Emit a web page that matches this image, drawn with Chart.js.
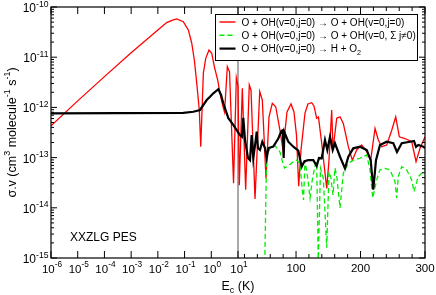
<!DOCTYPE html>
<html>
<head>
<meta charset="utf-8">
<script src="https://cdn.jsdelivr.net/npm/chart.js@4.4.1/dist/chart.umd.min.js"></script>
<style>
    html, body { margin: 0; padding: 0; background: #fff; }
</style>
</head>
<body>
<canvas id="grafico-tasas" width="436" height="295"></canvas>
<script>
// ==========================================
// 1. DATOS (Ec en K, sigma.v en cm3 molecule-1 s-1)
// ==========================================

// O + OH(v=0,j=0) -> O + OH(v=0,j=0)
const ecRojo = [1e-6, 1e-5, 1e-4, 1e-3, 1e-2, 0.0158, 0.0215, 0.0355, 0.0508, 0.0897, 0.138, 0.185, 0.232,
    0.285, 0.356, 0.403, 0.504, 0.619, 0.822, 1.04, 1.30, 1.74, 2.12, 2.75, 3.14, 3.99, 4.82, 6.81,
    8.67, 10, 12.0, 16.7, 21.9, 27.5, 30.2, 36.4, 43.7, 47.7, 53.4, 58.1, 63.2, 68.5, 75.1, 79.8,
    86, 92.2, 96.8, 100.7, 104.1, 107.7, 113.9, 118.4, 124.3, 127.8, 132, 134.8, 139.8, 147.6,
    151.1, 155.3, 157.3, 163.1, 168.2, 173.3, 181.1, 187.3, 194.1, 201.8, 209.6, 215.8, 222.5,
    227.6, 232.9, 240.6, 248.4, 254.6, 260.2, 269, 279.4, 286.1, 292.3, 300];
const sigmaRojo = [4.3e-13, 1.35e-12, 4.1e-12, 1.23e-11, 3.5e-11, 4.3e-11, 4.9e-11, 5.5e-11, 5.8e-11, 5.1e-11,
    3.5e-11, 1.92e-11, 8.8e-12, 3.06e-12, 8.9e-13, 1.65e-13, 4.8e-12, 9.5e-12, 1.39e-11, 1.2e-11,
    6.5e-12, 3.5e-12, 1.91e-12, 1.03e-12, 8.1e-13, 6.5e-12, 5.1e-12, 3.1e-14, 3.9e-12, 2.67e-12,
    2.8e-14, 2.4e-12, 2.3e-14, 2.8e-12, 2.2e-12, 1.5e-14, 2.06e-12, 1.4e-12, 3.9e-14, 6.5e-13,
    1.21e-12, 1.03e-12, 3.5e-13, 1.42e-13, 8.1e-13, 1.17e-12, 8.1e-13, 2.8e-13, 2.7e-14, 1.42e-13,
    7.7e-13, 1.17e-12, 1.24e-12, 1.07e-12, 6.1e-13, 6.4e-13, 1.93e-13, 2.44e-14, 8.9e-14, 8.9e-13,
    1.42e-13, 6.1e-13, 6.5e-13, 4.8e-13, 1.65e-13, 8.9e-14, 1.42e-13, 1.78e-13, 1.31e-13, 8.9e-14,
    3.8e-13, 2.24e-13, 1.65e-13, 1.78e-13, 3.5e-13, 6.5e-13, 2.6e-13, 2.4e-13, 2.07e-13, 8.3e-14,
    1.53e-13, 2.6e-13];

// O + OH(v=0,j=0) -> O + OH(v=0, Σ j≠0)
const ecVerde = [51.5, 54.3, 59.6, 66.3, 70.5, 75.1, 79, 82.1, 88, 95.8, 101, 106.2, 109.3, 111.6,
    113.9, 118.1, 121.7, 125.2, 129.4, 132, 134.5, 137.9, 142.3, 147.6, 151.1, 154.2, 157.3, 160.4,
    163.5, 168.2, 173.3, 175.9, 181.1, 188.8, 199.2, 209.6, 214.7, 218.9, 225.1, 230.2, 238, 245.7,
    253.5, 256.1, 258.6, 263.9, 271.6, 279.4, 282.9, 289.6, 297.4, 300];
const sigmaVerde = [8e-16, 1.03e-13, 1.53e-13, 1.78e-13, 1.55e-13, 1.29e-13, 8.2e-14, 6.2e-14, 6.8e-14,
    8.3e-14, 8.9e-14, 7.7e-14, 2.5e-14, 1.43e-14, 8.9e-14, 3.9e-14, 1.57e-14, 3.6e-14, 6.8e-14,
    8.2e-14, 8e-16, 6.2e-14, 3.9e-14, 1.6e-15, 5.2e-14, 3.9e-14, 1.8e-14, 6.2e-14, 3.9e-14, 9.9e-15,
    4.9e-14, 5.7e-14, 7.7e-14, 8.9e-14, 9.7e-14, 1.13e-13, 5.7e-14, 1.57e-14, 3.6e-14, 5.7e-14,
    6.1e-14, 5.7e-14, 3.3e-14, 1.57e-14, 4.2e-14, 6.6e-14, 5.7e-14, 3.6e-14, 2.1e-14, 4.2e-14,
    5.2e-14, 5.7e-14];

// O + OH(v=0,j=0) -> H + O2
const ecNegro = [1e-6, 0.0897, 0.213, 0.378, 0.674, 0.897, 1.19, 1.84, 2.32, 2.82, 4.35, 6.68, 8.43,
    10, 13.1, 16.2, 18.2, 20.9, 25.5, 28.6, 31.2, 33.7, 37.5, 39, 41, 44.1, 47.7, 51.9, 54.5, 57.3,
    64.7, 72.5, 77.5, 79.5, 80.8, 82, 88, 95.8, 103.5, 108.8, 113.1, 119, 126.8, 132, 135.6, 139.8,
    144.9, 148.5, 152.7, 156.9, 160.4, 168.2, 175.9, 181.1, 188.8, 199.2, 209.6, 215.8, 219.8, 224,
    230.2, 240.6, 250.8, 256.6, 263.9, 276.7, 282.9, 286.1, 289.6, 297.4, 300];
const sigmaNegro = [7.6e-13, 7.8e-13, 8.2e-13, 8.9e-13, 1.4e-12, 1.63e-12, 1.91e-12, 2.3e-12, 1.77e-12,
    1.21e-12, 6.1e-13, 4.5e-13, 3.7e-13, 3.2e-13, 2.8e-13, 2.6e-13, 6.2e-13, 2.24e-13, 9.8e-14,
    8.9e-14, 2.8e-13, 9.8e-14, 2.24e-13, 3.3e-13, 1.55e-13, 1.42e-13, 2.07e-13, 1.55e-13, 9.7e-14,
    1.55e-13, 1.65e-13, 2.4e-13, 3.4e-13, 3.5e-13, 9.8e-14, 3.2e-13, 2.07e-13, 1.65e-13, 1.38e-13,
    6.6e-14, 8.5e-14, 8.9e-14, 8.9e-14, 6.8e-14, 9.8e-14, 9.7e-14, 2.24e-13, 1.42e-13, 2.6e-13,
    1.42e-13, 1.93e-13, 1.04e-13, 6.1e-14, 1.04e-13, 1.53e-13, 1.65e-13, 1.42e-13, 8.9e-14, 2.3e-14,
    8.9e-14, 1.78e-13, 2.07e-13, 1.93e-13, 1.29e-13, 1.93e-13, 2.07e-13, 2.14e-13, 1.63e-13,
    1.78e-13, 1.65e-13, 1.55e-13];

// Ejes: parte logarítmica hasta 10 K, parte lineal de 10 a 300 K
const corteLog = 10;
const ecMax = 300;
const exponentesX = [-6, -5, -4, -3, -2, -1, 0, 1];
const ticksLinealX = [100, 200, 300];
const ticksMenoresX = [20, 40, 60, 80, 120, 140, 160, 180, 220, 240, 260, 280];
const exponentesY = [-15, -14, -13, -12, -11, -10];

const leyenda = [
    { color: '#ff0000', dash: [], ancho: 1.4, texto: [['O + OH(v=0,j=0) \u2192 O + OH(v=0,j=0)', 'n']] },
    { color: '#00ee00', dash: [5, 3], ancho: 1.4, texto: [['O + OH(v=0,j=0) \u2192 O + OH(v=0, \u03a3 j\u22600)', 'n']] },
    { color: '#000000', dash: [], ancho: 2.2, texto: [['O + OH(v=0,j=0) \u2192 H + O', 'n'], ['2', 'sub']] }
];

// ==========================================
// 2. UTILIDADES
// ==========================================

// Posición en el eje compuesto: 0..7 log(Ec), 7..14 lineal
function posicionX(ec) {
    if (ec <= corteLog) return Math.log10(ec) + 6;
    return 7 + (ec - corteLog) * 7 / (ecMax - corteLog);
}

function puntos(ecs, sigmas) {
    return ecs.map((e, i) => ({ x: posicionX(e), y: sigmas[i] }));
}

const FUENTE = '"Liberation Sans", Arial, Helvetica, sans-serif';

// Dibuja texto con partes normales, superíndices y subíndices
function textoCompuesto(ctx, partes, x, y, tam, alinear) {
    const medidas = partes.map(([t, tipo]) => {
        const s = tipo === 'n' ? tam : tam * 0.72;
        ctx.font = s + 'px ' + FUENTE;
        return { t, tipo, s, w: ctx.measureText(t).width };
    });
    const total = medidas.reduce((acc, m) => acc + m.w, 0);
    let cx = x;
    if (alinear === 'center') cx = x - total / 2;
    if (alinear === 'right') cx = x - total;
    ctx.textAlign = 'left';
    ctx.textBaseline = 'alphabetic';
    medidas.forEach(m => {
        ctx.font = m.s + 'px ' + FUENTE;
        let dy = 0;
        if (m.tipo === 'sup') dy = -tam * 0.45;
        if (m.tipo === 'sub') dy = tam * 0.25;
        ctx.fillText(m.t, cx, y + dy);
        cx += m.w;
    });
    return total;
}

// ==========================================
// 3. PLUGIN DE EJES, LEYENDA Y TEXTOS
// ==========================================

const marcoEjes = {
    id: 'marcoEjes',
    beforeDatasetsDraw(chart) {
        const { ctx, chartArea: a, scales: { x } } = chart;
        const xp = x.getPixelForValue(posicionX(corteLog));
        ctx.save();
        ctx.strokeStyle = '#8c8c8c';
        ctx.lineWidth = 1.5;
        ctx.beginPath();
        ctx.moveTo(xp, a.top);
        ctx.lineTo(xp, a.bottom);
        ctx.stroke();
        ctx.restore();
    },
    afterDatasetsDraw(chart) {
        const { ctx, chartArea: a, scales: { x, y } } = chart;
        ctx.save();
        ctx.fillStyle = '#000';
        ctx.strokeStyle = '#000';

        // marco
        ctx.lineWidth = 1.2;
        ctx.strokeRect(a.left, a.top, a.right - a.left, a.bottom - a.top);

        // ticks eje x
        ctx.lineWidth = 1;
        const tickX = (px, largo) => {
            ctx.beginPath();
            ctx.moveTo(px, a.bottom); ctx.lineTo(px, a.bottom - largo);
            ctx.moveTo(px, a.top); ctx.lineTo(px, a.top + largo);
            ctx.stroke();
        };
        exponentesX.forEach(n => tickX(x.getPixelForValue(posicionX(Math.pow(10, n))), 7));
        ticksLinealX.forEach(v => tickX(x.getPixelForValue(posicionX(v)), 7));
        ticksMenoresX.forEach(v => tickX(x.getPixelForValue(posicionX(v)), 4));

        // ticks eje y (mayores y menores)
        const tickY = (py, largo) => {
            ctx.beginPath();
            ctx.moveTo(a.left, py); ctx.lineTo(a.left + largo, py);
            ctx.moveTo(a.right, py); ctx.lineTo(a.right - largo, py);
            ctx.stroke();
        };
        exponentesY.forEach(n => {
            tickY(y.getPixelForValue(Math.pow(10, n)), 6);
            if (n < -10) {
                for (let k = 2; k <= 9; k++) tickY(y.getPixelForValue(k * Math.pow(10, n)), 3);
            }
        });

        // etiquetas eje y
        exponentesY.forEach(n => {
            const py = y.getPixelForValue(Math.pow(10, n));
            textoCompuesto(ctx, [['10', 'n'], [String(n), 'sup']], 48.5, py + 5, 12, 'right');
        });

        // etiquetas eje x
        exponentesX.forEach(n => {
            const px = x.getPixelForValue(posicionX(Math.pow(10, n)));
            textoCompuesto(ctx, [['10', 'n'], [String(n), 'sup']], px + 1, a.bottom + 14.5, 11.5, 'center');
        });
        ticksLinealX.forEach(v => {
            const px = x.getPixelForValue(posicionX(v));
            textoCompuesto(ctx, [[String(v), 'n']], px, a.bottom + 13.5, 11.5, 'center');
        });

        // títulos de ejes
        textoCompuesto(ctx, [['E', 'n'], ['c', 'sub'], [' (K)', 'n']], (a.left + a.right) / 2, 289.5, 12.5, 'center');
        ctx.save();
        ctx.translate(16, (a.top + a.bottom) / 2);
        ctx.rotate(-Math.PI / 2);
        textoCompuesto(ctx, [['\u03c3.v (cm', 'n'], ['3', 'sup'], [' molecule', 'n'], ['-1', 'sup'],
            [' s', 'n'], ['-1', 'sup'], [')', 'n']], 0, 0, 12.5, 'center');
        ctx.restore();

        // anotación
        textoCompuesto(ctx, [['XXZLG PES', 'n']], 70, 240.5, 12, 'left');

        // leyenda
        const lx = 215.5, ly = 14.5, lw = 202, lh = 46;
        ctx.fillStyle = '#fff';
        ctx.fillRect(lx, ly, lw, lh);
        ctx.strokeStyle = '#000';
        ctx.lineWidth = 1;
        ctx.strokeRect(lx, ly, lw, lh);
        leyenda.forEach((item, i) => {
            const fy = ly + 7.5 + i * 13.3;
            ctx.strokeStyle = item.color;
            ctx.lineWidth = item.ancho;
            ctx.setLineDash(item.dash);
            ctx.beginPath();
            ctx.moveTo(lx + 4, fy); ctx.lineTo(lx + 20, fy);
            ctx.stroke();
            ctx.setLineDash([]);
            ctx.fillStyle = '#000';
            textoCompuesto(ctx, item.texto, lx + 26, fy + 3.6, 10, 'left');
        });
        ctx.restore();
    }
};

// ==========================================
// 4. GRÁFICO
// ==========================================

new Chart(document.getElementById('grafico-tasas'), {
    type: 'line',
    data: {
        datasets: [{
            label: 'O + OH(v=0,j=0) \u2192 O + OH(v=0,j=0)',
            data: puntos(ecRojo, sigmaRojo),
            borderColor: '#ff0000',
            borderWidth: 1.3,
            order: 2
        }, {
            label: 'O + OH(v=0,j=0) \u2192 O + OH(v=0, \u03a3 j\u22600)',
            data: puntos(ecVerde, sigmaVerde),
            borderColor: '#00ee00',
            borderWidth: 1.3,
            borderDash: [5, 3],
            order: 1
        }, {
            label: 'O + OH(v=0,j=0) \u2192 H + O2',
            data: puntos(ecNegro, sigmaNegro),
            borderColor: '#000000',
            borderWidth: 2.2,
            order: 0
        }]
    },
    options: {
        responsive: false,
        animation: false,
        devicePixelRatio: 1,
        layout: { padding: { left: 51, top: 7, right: 11, bottom: 37 } },
        parsing: false,
        scales: {
            x: { type: 'linear', min: 0, max: 14, display: false },
            y: { type: 'logarithmic', min: 1e-15, max: 1e-10, display: false }
        },
        elements: {
            point: { radius: 0 },
            line: { tension: 0, fill: false }
        },
        plugins: {
            legend: { display: false },
            tooltip: { enabled: false }
        }
    },
    plugins: [marcoEjes]
});
</script>
</body>
</html>
